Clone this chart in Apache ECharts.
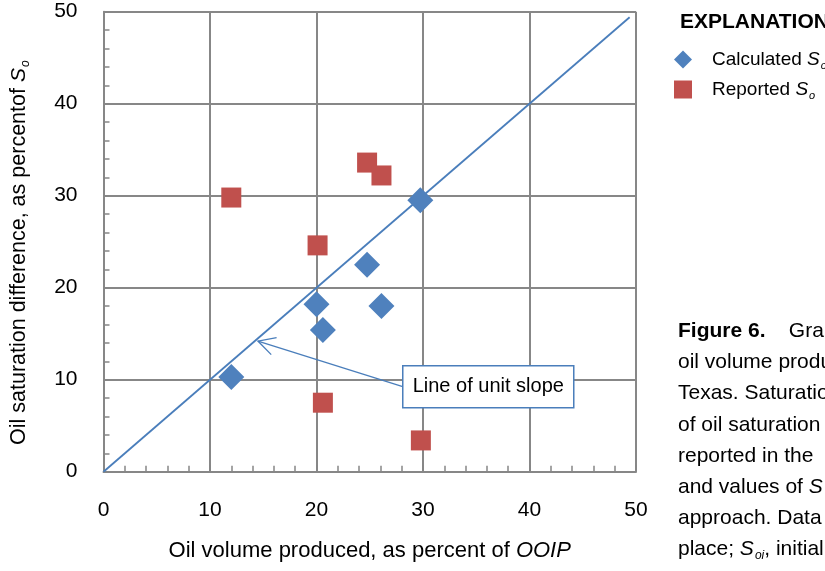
<!DOCTYPE html>
<html>
<head>
<meta charset="utf-8">
<script src="https://cdn.jsdelivr.net/npm/echarts@6/dist/echarts.min.js"></script>
<style>
  html, body { margin: 0; padding: 0; background: #fff; }
  #main { width: 825px; height: 571px; }
</style>
</head>
<body>
<div id="main"></div>
<script>
// values
var axisTicks = [0, 10, 20, 30, 40, 50];
var calcX = [12.0, 20.0, 20.6, 24.75, 26.1, 29.75];
var calcY = [10.3, 18.2, 15.4, 22.5, 18.0, 29.5];
var repX = [12.0, 20.1, 20.6, 24.75, 26.1, 29.8];
var repY = [29.8, 24.6, 7.5, 33.6, 32.2, 3.4];
var unitX = [0, 49.4];
var unitY = [0, 49.4];
// annotation: box anchor (x, y) and arrow tip (x, y), in data units
var noteFrom = [28.1, 9.24];
var noteTo = [14.5, 14.2];
var noteText = 'Line of unit slope';

var captionLines = [
  '{b|Figure 6.}    Graph',
  'oil volume produced',
  'Texas. Saturation',
  'of oil saturation',
  'reported in the',
  'and values of {i|S}',
  'approach. Data',
  'place; {i|S}{sub|oi}, initial'
];

var WORD = "'Liberation Sans', Arial, sans-serif";
var GRID = '#878787';
var BLUE = '#4f81bd';
var RED = '#c0504d';

function zip(a, b) {
  return a.map(function (v, i) { return [v, b[i]]; });
}

var subRich = {
  i: { fontStyle: 'italic', fontFamily: WORD, fontSize: 21, color: '#000' },
  sub: { fontStyle: 'italic', fontFamily: WORD, fontSize: 12, color: '#000', padding: [13, 0, 0, 1] },
  b: { fontWeight: 'bold', fontFamily: WORD, fontSize: 21, color: '#000' }
};

var myChart = echarts.init(document.getElementById('main'));

var axisCommon = {
  type: 'value',
  min: axisTicks[0],
  max: axisTicks[axisTicks.length - 1],
  interval: axisTicks[1] - axisTicks[0],
  nameLocation: 'middle',
  axisLine: { show: true, lineStyle: { color: GRID, width: 2 } },
  axisTick: { show: true, inside: true, length: 6, lineStyle: { color: GRID, width: 1.5 } },
  minorTick: { show: true, splitNumber: 5, length: 6, lineStyle: { color: GRID, width: 1.5 } },
  splitLine: { show: true, lineStyle: { color: GRID, width: 2 } },
  axisLabel: { color: '#000', fontSize: 21, fontFamily: WORD, margin: 28 }
};

myChart.setOption({
  animation: false,
  grid: { left: 102.6, right: 189, top: 11.7, bottom: 99.3 },
  xAxis: echarts.util.merge({
    name: 'Oil volume produced, as percent of {i|OOIP}',
    nameGap: 68,
    nameTextStyle: {
      fontSize: 22, fontFamily: WORD, color: '#000',
      rich: { i: { fontStyle: 'italic', fontFamily: WORD, fontSize: 22, color: '#000' } }
    }
  }, axisCommon),
  yAxis: echarts.util.merge({
    name: 'Oil saturation difference, as percentof {i|S}{sub|o}',
    nameGap: 72,
    nameTextStyle: { fontSize: 21.5, fontFamily: WORD, color: '#000', rich: subRich, padding: [0, 22, 0, 0] },
    axisLabel: { margin: 26 }
  }, axisCommon),
  legend: {
    orient: 'vertical',
    left: 669,
    top: 45,
    itemWidth: 18,
    itemHeight: 18,
    itemGap: 9,
    data: [
      { name: 'Calculated', icon: 'diamond' },
      { name: 'Reported', icon: 'rect' }
    ],
    formatter: function (name) {
      return '{g|}' + name + ' {i|S}{sub|o}';
    },
    textStyle: {
      fontSize: 19, fontFamily: WORD, color: '#000',
      rich: {
        g: { width: 15 },
        i: { fontStyle: 'italic', fontSize: 19, fontFamily: WORD, color: '#000' },
        sub: { fontStyle: 'italic', fontSize: 11, fontFamily: WORD, color: '#000', padding: [12, 0, 0, 1] }
      }
    }
  },
  graphic: [{
    type: 'text',
    left: 680,
    top: 12,
    style: { text: 'EXPLANATION', fontSize: 21, fontWeight: 'bold', fontFamily: WORD, fill: '#000' }
  }].concat(captionLines.map(function (t, k) {
    return {
      type: 'text',
      left: 678,
      top: 321 + k * 31.1,
      style: { text: t, fontSize: 21, fontFamily: WORD, fill: '#000', rich: subRich }
    };
  })),
  series: [{
    name: 'unit slope',
    type: 'line',
    data: zip(unitX, unitY),
    symbol: 'none',
    lineStyle: { color: '#4a7ebb', width: 1.8 },
    z: 2
  }, {
    name: 'Calculated',
    type: 'scatter',
    symbol: 'diamond',
    symbolSize: 26,
    itemStyle: { color: BLUE, opacity: 1 },
    data: zip(calcX, calcY),
    z: 4
  }, {
    name: 'Reported',
    type: 'scatter',
    symbol: 'rect',
    symbolSize: 20,
    itemStyle: { color: RED, opacity: 1 },
    data: zip(repX, repY),
    z: 4
  }, {
    type: 'custom',
    silent: true,
    z: 5,
    data: [[noteFrom[0], noteFrom[1], noteTo[0], noteTo[1]]],
    renderItem: function (params, api) {
      var a = api.coord([api.value(0), api.value(1)]);
      var b = api.coord([api.value(2), api.value(3)]);
      var ang = Math.atan2(a[1] - b[1], a[0] - b[0]);
      var L = 19, h = 0.49;
      var p1 = [b[0] + L * Math.cos(ang - h), b[1] + L * Math.sin(ang - h)];
      var p2 = [b[0] + L * Math.cos(ang + h), b[1] + L * Math.sin(ang + h)];
      return {
        type: 'group',
        children: [
          { type: 'line', shape: { x1: a[0], y1: a[1], x2: b[0], y2: b[1] }, style: { stroke: '#4a7ebb', lineWidth: 1.3 } },
          { type: 'polyline', shape: { points: [p1, b, p2] }, style: { stroke: '#4a7ebb', fill: null, lineWidth: 1.3 } },
          { type: 'rect', shape: { x: a[0], y: a[1] - 21, width: 171, height: 42 }, style: { fill: '#fff', stroke: '#4a7ebb', lineWidth: 1.5 } },
          { type: 'text', x: a[0] + 85.5, y: a[1], style: { text: noteText, fill: '#000', fontSize: 20, fontFamily: WORD, align: 'center', verticalAlign: 'middle' } }
        ]
      };
    }
  }]
});
</script>
</body>
</html>
